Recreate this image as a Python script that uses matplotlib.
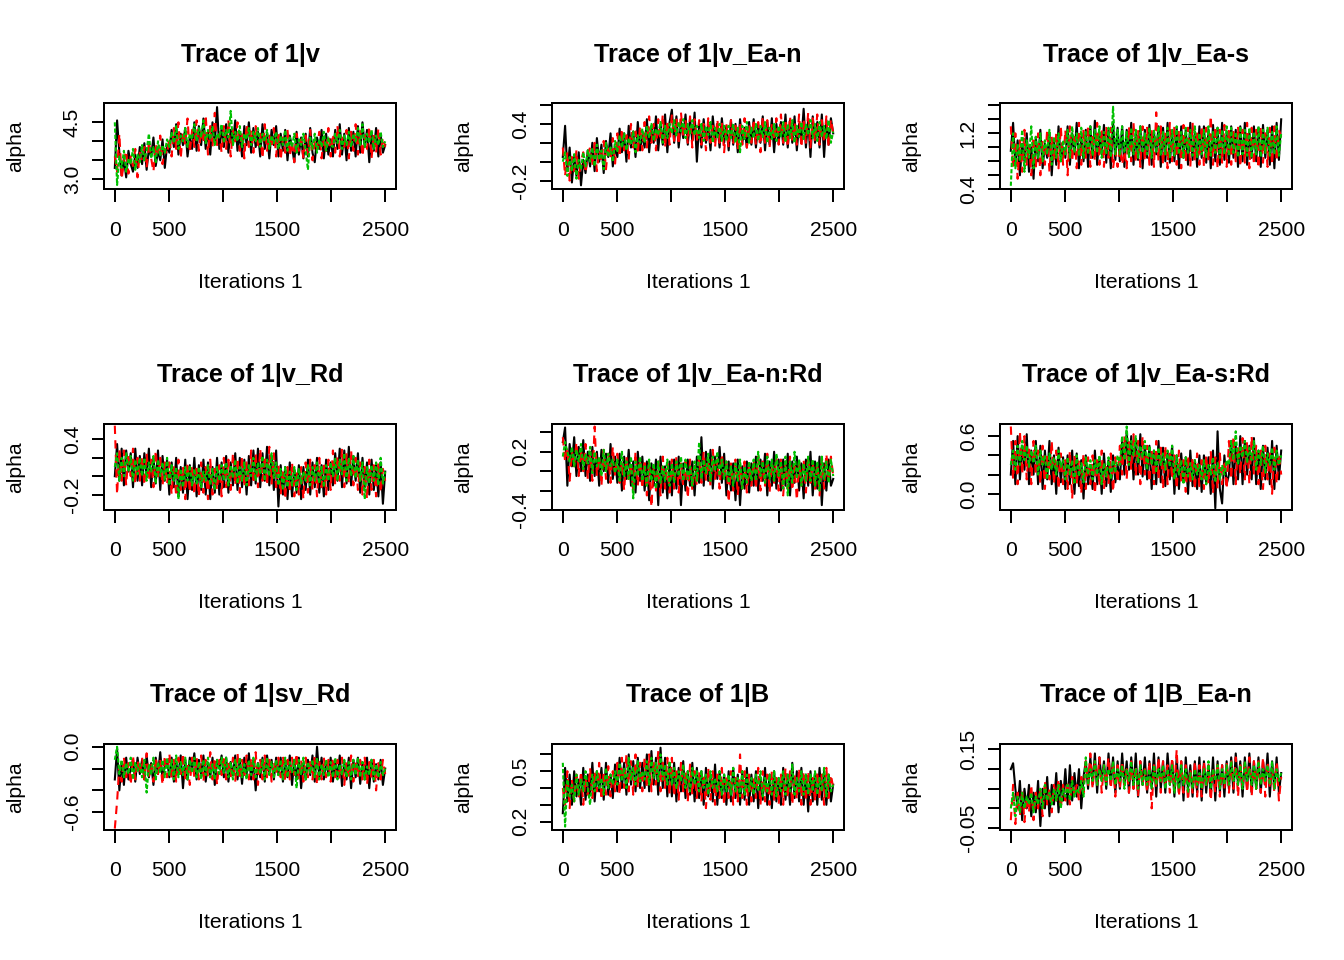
import numpy as np
import matplotlib.pyplot as plt

plt.rcParams['font.family'] = ['Liberation Sans', 'DejaVu Sans']

# ---- chain values (3 chains per parameter, 2500 iterations, thinned) ----
v_c1 = [3.3, 4.55, 3.7, 3.1, 3.55, 3.05, 3.75, 3.4, 3.2, 3.65, 3.3, 3.85,
        3.4, 3.95, 3.25, 3.8, 3.6, 4.1, 3.35, 3.75, 3.5, 4.05, 3.3, 3.9,
        3.7, 4.3, 3.85, 4.45, 3.65, 4.2, 3.9, 4.35, 3.6, 4.1, 3.8, 4.5,
        3.75, 4.4, 3.9, 4.6, 3.8, 4.25, 3.65, 4.5, 3.95, 4.9, 3.8, 4.35,
        3.85, 4.45, 3.7, 4.3, 3.95, 4.55, 3.75, 4.2, 3.6, 4.4, 3.9, 4.5,
        3.7, 4.35, 3.85, 4.25, 3.6, 4.45, 3.8, 4.2, 3.55, 4.3, 3.9, 4.4,
        3.6, 4.2, 3.75, 4.3, 3.5, 4.15, 3.85, 3.45, 4.25, 3.65, 4.1, 3.55,
        4.2, 3.6, 4.35, 3.7, 3.45, 4.1, 3.8, 4.3, 3.55, 4.2, 3.65, 4.05,
        3.6, 4.3, 3.8, 4.45, 3.65, 4.2, 3.5, 4.35, 3.75, 4.25, 3.6, 4.4,
        3.7, 4.5, 3.85, 4.3, 3.45, 4.2, 3.75, 4.35, 3.6, 4.15, 3.7, 3.9]
v_c2 = [3.6, 3.2, 4.2, 3.0, 3.5, 3.75, 3.15, 3.6, 3.35, 3.8, 3.05, 3.7,
        3.5, 3.85, 3.3, 4.0, 3.55, 3.2, 3.95, 3.6, 4.15, 3.4, 3.8, 3.65,
        4.1, 3.6, 4.35, 3.8, 4.5, 3.55, 4.25, 3.9, 4.6, 3.7, 4.3, 3.85,
        4.55, 3.75, 4.3, 3.95, 4.7, 3.65, 4.4, 3.85, 4.75, 3.9, 4.2, 3.7,
        4.4, 3.8, 4.55, 3.6, 4.3, 4.0, 4.5, 3.75, 4.25, 3.55, 4.45, 3.85,
        4.3, 3.7, 4.4, 3.9, 4.2, 3.55, 4.45, 3.75, 4.15, 3.85, 4.35, 3.6,
        4.25, 3.5, 4.1, 3.7, 4.3, 3.6, 4.0, 3.45, 4.2, 3.75, 4.05, 3.55,
        4.15, 3.65, 4.3, 3.5, 4.0, 3.8, 4.25, 3.55, 4.1, 3.7, 4.35, 3.6,
        4.2, 3.7, 4.4, 3.6, 4.1, 3.85, 4.3, 3.55, 4.25, 3.75, 4.45, 3.65,
        4.3, 3.6, 4.15, 3.8, 4.4, 3.55, 4.2, 3.7, 4.35, 3.65, 4.1, 3.85]
v_c3 = [4.5, 2.85, 3.6, 3.3, 3.75, 3.2, 3.55, 3.4, 3.8, 3.25, 3.65, 3.45,
        3.9, 3.5, 3.75, 4.2, 3.55, 3.85, 3.45, 4.0, 3.6, 3.9, 3.7, 4.05,
        3.85, 4.25, 3.95, 4.4, 3.8, 4.15, 4.0, 4.35, 3.85, 4.2, 4.05, 4.45,
        4.0, 4.35, 4.1, 4.55, 3.95, 4.3, 4.05, 4.4, 3.9, 4.2, 4.1, 4.45,
        3.95, 4.3, 4.1, 4.8, 3.9, 4.25, 4.0, 4.4, 3.85, 4.2, 4.05, 4.35,
        3.9, 4.25, 4.0, 4.35, 3.85, 4.2, 4.0, 4.3, 3.8, 4.15, 3.95, 4.25,
        3.8, 4.15, 3.9, 4.3, 3.75, 4.1, 3.85, 4.2, 3.7, 4.05, 3.9, 4.2,
        3.75, 3.25, 4.1, 3.8, 4.2, 3.7, 4.05, 3.85, 4.25, 3.75, 4.1, 3.9,
        3.85, 4.2, 3.95, 4.3, 3.8, 4.15, 3.9, 4.25, 3.85, 4.2, 4.0, 4.35,
        3.9, 4.45, 3.85, 4.2, 3.95, 4.3, 3.8, 4.15, 3.9, 4.25, 3.85, 4.0]

ean_c1 = [0.05, 0.38, -0.1, 0.15, -0.22, 0.05, -0.15, 0.1, -0.25, 0.02, -0.12, 0.12,
          -0.05, 0.2, -0.1, 0.25, 0.0, 0.18, -0.12, 0.22, 0.05, 0.3, -0.05, 0.15,
          0.05, 0.35, 0.1, 0.3, 0.0, 0.38, 0.15, 0.32, 0.05, 0.42, 0.12, 0.28,
          0.15, 0.45, 0.1, 0.38, 0.2, 0.48, 0.12, 0.4, 0.18, 0.5, 0.1, 0.42,
          0.55, 0.2, 0.48, 0.15, 0.42, 0.25, 0.5, 0.18, 0.45, 0.22, 0.52, 0.0,
          0.4, 0.15, 0.45, 0.2, 0.38, 0.12, 0.48, 0.22, 0.4, 0.15, 0.46, 0.2,
          0.38, 0.12, 0.44, 0.18, 0.4, 0.1, 0.45, 0.2, 0.36, 0.15, 0.42, 0.18,
          0.45, 0.15, 0.4, 0.2, 0.48, 0.12, 0.42, 0.18, 0.46, 0.1, 0.4, 0.2,
          0.42, 0.18, 0.5, 0.15, 0.44, 0.2, 0.48, 0.12, 0.4, 0.22, 0.56, 0.15,
          0.45, 0.05, 0.48, 0.2, 0.42, 0.15, 0.5, 0.05, 0.44, 0.18, 0.46, 0.3]
ean_c2 = [0.15, -0.15, 0.1, -0.2, 0.05, -0.1, 0.12, -0.18, 0.0, 0.1, -0.12, 0.08,
          0.15, -0.05, 0.2, -0.1, 0.12, 0.0, 0.22, -0.08, 0.18, 0.02, 0.25, -0.02,
          0.3, 0.05, 0.35, 0.12, 0.28, 0.02, 0.4, 0.15, 0.32, 0.08, 0.38, 0.12,
          0.42, 0.15, 0.48, 0.2, 0.4, 0.12, 0.45, 0.22, 0.5, 0.15, 0.44, 0.18,
          0.5, 0.22, 0.46, 0.18, 0.52, 0.25, 0.44, 0.2, 0.48, 0.15, 0.45, 0.22,
          0.44, 0.18, 0.4, 0.12, 0.46, 0.2, 0.38, 0.15, 0.45, 0.2, 0.42, 0.1,
          0.4, 0.15, 0.44, 0.2, 0.38, 0.12, 0.42, 0.18, 0.46, 0.15, 0.4, 0.2,
          0.45, 0.18, 0.42, 0.1, 0.48, 0.2, 0.44, 0.15, 0.4, 0.22, 0.46, 0.18,
          0.5, 0.2, 0.45, 0.15, 0.48, 0.22, 0.42, 0.18, 0.5, 0.15, 0.46, 0.2,
          0.52, 0.15, 0.46, 0.22, 0.5, 0.18, 0.44, 0.2, 0.48, 0.15, 0.45, 0.3]
ean_c3 = [0.0, 0.1, -0.15, 0.05, -0.1, 0.08, -0.18, 0.02, -0.08, 0.1, -0.05, 0.12,
          0.0, 0.15, -0.05, 0.18, 0.02, 0.12, -0.08, 0.2, 0.05, 0.15, 0.0, 0.22,
          0.1, 0.28, 0.15, 0.3, 0.12, 0.25, 0.18, 0.32, 0.1, 0.28, 0.2, 0.35,
          0.2, 0.38, 0.25, 0.4, 0.22, 0.35, 0.28, 0.42, 0.2, 0.38, 0.25, 0.4,
          0.3, 0.44, 0.28, 0.42, 0.32, 0.45, 0.25, 0.4, 0.3, 0.44, 0.28, 0.38,
          0.25, 0.4, 0.22, 0.38, 0.28, 0.42, 0.2, 0.36, 0.25, 0.4, 0.22, 0.38,
          0.22, 0.38, 0.25, 0.4, 0.2, 0.36, 0.1, 0.38, 0.24, 0.42, 0.2, 0.36,
          0.25, 0.4, 0.22, 0.38, 0.26, 0.42, 0.2, 0.36, 0.24, 0.4, 0.22, 0.38,
          0.26, 0.42, 0.22, 0.4, 0.25, 0.44, 0.2, 0.38, 0.26, 0.42, 0.24, 0.4,
          0.28, 0.44, 0.25, 0.4, 0.22, 0.42, 0.26, 0.38, 0.24, 0.44, 0.2, 0.32]

eas_c1 = [0.95, 1.35, 0.75, 1.1, 0.6, 1.05, 0.8, 1.2, 0.65, 1.0, 0.55, 1.15,
          0.8, 1.25, 0.7, 1.05, 0.85, 1.2, 0.6, 1.1, 0.75, 1.3, 0.8, 1.0,
          0.85, 1.3, 0.75, 1.2, 0.9, 1.35, 0.7, 1.15, 0.8, 1.25, 0.72, 1.3,
          0.85, 1.38, 0.75, 1.2, 0.9, 1.32, 0.78, 1.25, 0.7, 1.35, 0.82, 1.28,
          0.8, 1.3, 0.72, 1.25, 0.88, 1.35, 0.75, 1.2, 0.82, 1.3, 0.7, 1.25,
          0.85, 1.32, 0.75, 1.22, 0.9, 1.3, 0.72, 1.28, 0.8, 1.35, 0.78, 1.2,
          0.8, 1.28, 0.7, 1.3, 0.85, 1.25, 0.75, 1.35, 0.82, 1.22, 0.72, 1.3,
          0.85, 1.3, 0.78, 1.25, 0.7, 1.32, 0.8, 1.28, 0.75, 1.35, 0.82, 1.2,
          0.78, 1.3, 0.85, 1.25, 0.72, 1.3, 0.8, 1.35, 0.75, 1.22, 0.85, 1.3,
          0.8, 1.28, 0.72, 1.32, 0.85, 1.25, 0.75, 1.3, 0.7, 1.35, 0.82, 1.4]
eas_c2 = [1.3, 0.7, 1.2, 0.55, 1.1, 0.65, 1.25, 0.75, 1.05, 0.6, 1.15, 0.7,
          1.2, 0.6, 1.1, 0.75, 1.25, 0.65, 1.15, 0.8, 1.2, 0.7, 1.3, 0.75,
          1.25, 0.6, 1.3, 0.8, 1.2, 0.7, 1.35, 0.75, 1.25, 0.85, 1.3, 0.72,
          1.2, 0.8, 1.35, 0.75, 1.25, 0.72, 1.3, 0.85, 1.28, 0.7, 0.95, 0.72,
          1.0, 0.75, 0.95, 0.7, 1.3, 0.8, 1.35, 0.78, 1.25, 0.72, 1.3, 0.8,
          1.28, 0.75, 1.25, 0.72, 1.5, 0.8, 1.3, 0.75, 1.22, 0.7, 1.35, 0.8,
          1.3, 0.75, 1.25, 0.7, 1.32, 0.78, 1.28, 0.72, 1.35, 0.8, 1.25, 0.75,
          1.3, 0.72, 1.28, 0.8, 1.45, 0.75, 1.3, 0.7, 1.25, 0.78, 1.32, 0.72,
          1.28, 0.75, 1.22, 0.8, 1.3, 0.72, 1.25, 0.78, 1.35, 0.7, 1.28, 0.75,
          1.25, 0.7, 1.3, 0.78, 1.2, 0.72, 1.28, 0.75, 1.3, 0.8, 1.25, 1.15]
eas_c3 = [0.45, 1.2, 0.7, 1.05, 0.8, 1.25, 0.65, 1.1, 0.85, 1.3, 0.7, 1.15,
          0.85, 1.2, 0.8, 1.1, 0.9, 1.25, 0.75, 1.15, 0.85, 1.2, 0.8, 1.1,
          0.9, 1.25, 0.85, 1.3, 0.92, 1.2, 0.88, 1.28, 0.85, 1.22, 0.9, 1.3,
          0.88, 1.25, 0.92, 1.3, 0.85, 1.22, 0.9, 1.28, 0.86, 1.58, 0.9, 1.25,
          0.88, 1.3, 0.92, 1.22, 0.86, 1.28, 0.9, 1.25, 0.85, 1.3, 0.92, 1.2,
          0.9, 1.28, 0.85, 1.25, 0.92, 1.3, 0.88, 1.22, 0.9, 1.28, 0.86, 1.25,
          0.88, 1.3, 0.9, 1.22, 0.85, 1.28, 0.92, 1.25, 0.88, 1.3, 0.86, 1.2,
          0.9, 1.25, 0.86, 1.3, 0.88, 1.22, 0.92, 1.28, 0.85, 1.25, 0.9, 1.3,
          0.88, 1.28, 0.92, 1.22, 0.86, 1.3, 0.9, 1.25, 0.88, 1.28, 0.85, 1.22,
          0.9, 1.3, 0.86, 1.25, 0.92, 1.28, 0.88, 1.22, 0.9, 1.3, 0.88, 1.2]

rd_c1 = [0.0, 0.35, -0.05, 0.3, -0.1, 0.28, 0.05, 0.25, -0.12, 0.3, -0.05, 0.22,
         -0.1, 0.25, 0.0, 0.3, -0.12, 0.2, -0.08, 0.28, -0.15, 0.22, -0.05, 0.18,
         -0.2, 0.15, -0.12, 0.2, -0.22, 0.1, -0.18, 0.18, -0.25, 0.12, -0.15, 0.2,
         -0.22, 0.12, -0.15, 0.18, -0.2, 0.15, -0.25, 0.1, -0.18, 0.2, -0.2, 0.15,
         -0.12, 0.22, -0.18, 0.15, -0.1, 0.25, -0.15, 0.2, -0.12, 0.18, -0.2, 0.22,
         -0.1, 0.28, -0.08, 0.3, -0.12, 0.25, -0.05, 0.32, -0.1, 0.22, -0.15, 0.28,
         -0.33, 0.12, -0.2, 0.1, -0.25, 0.15, -0.22, 0.08, -0.18, 0.12, -0.25, 0.1,
         -0.15, 0.18, -0.2, 0.15, -0.12, 0.2, -0.18, 0.12, -0.22, 0.18, -0.15, 0.15,
         -0.1, 0.25, -0.05, 0.3, -0.12, 0.28, -0.08, 0.32, -0.1, 0.22, -0.05, 0.25,
         -0.18, 0.2, -0.12, 0.15, -0.2, 0.18, -0.15, 0.12, -0.22, 0.15, -0.3, 0.05]
rd_c2 = [0.55, -0.2, 0.3, -0.05, 0.28, -0.1, 0.25, 0.0, 0.3, -0.08, 0.2, -0.05,
         0.22, -0.1, 0.25, -0.05, 0.18, -0.12, 0.28, -0.02, 0.2, -0.1, 0.15, -0.08,
         0.15, -0.2, 0.12, -0.22, 0.18, -0.15, 0.1, -0.25, 0.15, -0.18, 0.12, -0.2,
         0.12, -0.22, 0.15, -0.18, 0.1, -0.25, 0.18, -0.2, 0.08, -0.15, 0.12, -0.22,
         0.2, -0.12, 0.18, -0.15, 0.25, -0.1, 0.2, -0.18, 0.22, -0.12, 0.15, -0.1,
         0.28, -0.08, 0.25, -0.12, 0.3, -0.05, 0.22, -0.1, 0.32, -0.08, 0.25, -0.12,
         0.12, -0.2, 0.08, -0.25, 0.1, -0.18, 0.15, -0.22, 0.05, -0.2, 0.1, -0.25,
         0.15, -0.18, 0.18, -0.15, 0.12, -0.22, 0.2, -0.12, 0.15, -0.2, 0.18, -0.15,
         0.28, -0.1, 0.22, -0.05, 0.3, -0.12, 0.25, -0.08, 0.28, -0.1, 0.2, -0.15,
         0.15, -0.2, 0.1, -0.25, 0.18, -0.15, 0.12, -0.22, 0.15, -0.18, 0.08, -0.05]
rd_c3 = [0.1, 0.25, -0.05, 0.2, 0.0, 0.25, 0.05, 0.22, -0.05, 0.18, 0.02, 0.2,
         0.0, 0.2, -0.05, 0.15, 0.05, 0.22, -0.08, 0.18, 0.0, 0.15, -0.05, 0.2,
         -0.1, 0.12, -0.05, 0.1, -0.25, 0.08, -0.12, 0.1, -0.05, 0.12, -0.1, 0.08,
         -0.08, 0.1, -0.12, 0.05, -0.05, 0.12, -0.1, 0.08, -0.15, 0.1, -0.05, 0.12,
         -0.05, 0.15, -0.1, 0.12, -0.02, 0.18, -0.08, 0.1, -0.05, 0.15, -0.1, 0.12,
         0.0, 0.2, -0.05, 0.15, 0.02, 0.22, -0.05, 0.18, 0.0, 0.25, -0.02, 0.15,
         -0.1, 0.08, -0.15, 0.1, -0.12, 0.05, -0.1, 0.1, -0.15, 0.08, -0.08, 0.05,
         -0.05, 0.12, -0.1, 0.1, -0.05, 0.15, -0.08, 0.1, -0.12, 0.12, -0.05, 0.15,
         0.0, 0.2, -0.05, 0.18, 0.02, 0.25, -0.05, 0.2, 0.0, 0.22, -0.02, 0.18,
         -0.05, 0.15, -0.25, 0.1, -0.08, 0.12, -0.05, 0.15, -0.1, 0.2, -0.08, 0.05]

eanrd_c1 = [0.3, 0.45, -0.15, 0.28, 0.05, 0.35, -0.05, 0.25, 0.0, 0.32, -0.05, 0.2,
            -0.1, 0.25, -0.05, 0.2, -0.15, 0.22, 0.0, 0.18, -0.12, 0.28, -0.08, 0.15,
            -0.12, 0.18, -0.2, 0.15, -0.08, 0.22, -0.15, 0.1, -0.22, 0.2, -0.1, 0.15,
            -0.2, 0.1, -0.3, 0.08, -0.15, 0.12, -0.35, 0.15, -0.22, 0.05, -0.28, 0.1,
            -0.25, 0.12, -0.18, 0.15, -0.35, 0.08, -0.2, 0.12, -0.15, 0.1, -0.25, 0.15,
            -0.12, 0.35, -0.15, 0.2, -0.1, 0.22, -0.18, 0.15, -0.08, 0.25, -0.12, 0.18,
            -0.25, 0.1, -0.2, 0.08, -0.3, 0.12, -0.35, 0.05, -0.18, 0.1, -0.22, 0.08,
            -0.15, 0.15, -0.2, 0.12, -0.1, 0.18, -0.25, 0.1, -0.15, 0.2, -0.18, 0.12,
            -0.2, 0.12, -0.15, 0.18, -0.25, 0.1, -0.12, 0.15, -0.2, 0.08, -0.28, 0.12,
            -0.15, 0.2, -0.25, 0.1, -0.18, 0.15, -0.35, 0.08, -0.2, 0.12, -0.15, -0.08]
eanrd_c2 = [0.35, 0.1, 0.25, -0.1, 0.2, 0.05, 0.3, -0.05, 0.22, 0.0, 0.28, -0.08,
            0.2, -0.1, 0.46, -0.05, 0.15, -0.15, 0.22, -0.08, 0.18, -0.12, 0.25, -0.05,
            0.18, -0.12, 0.1, -0.2, 0.15, -0.1, 0.08, -0.22, 0.2, -0.15, 0.12, -0.18,
            0.12, -0.25, 0.1, -0.37, 0.05, -0.2, 0.1, -0.25, 0.15, -0.18, 0.08, -0.22,
            0.12, -0.18, 0.15, -0.22, 0.08, -0.15, 0.1, -0.28, 0.12, -0.2, 0.05, -0.15,
            0.15, -0.12, 0.2, -0.1, 0.1, -0.15, 0.22, -0.08, 0.12, -0.18, 0.18, -0.1,
            0.1, -0.32, 0.08, -0.2, 0.12, -0.25, 0.05, -0.18, 0.1, -0.22, 0.08, -0.15,
            0.12, -0.18, 0.15, -0.2, 0.1, -0.15, 0.18, -0.22, 0.08, -0.12, 0.15, -0.2,
            0.12, -0.25, 0.1, -0.18, 0.15, -0.2, 0.05, -0.3, 0.1, -0.15, 0.12, -0.22,
            0.15, -0.12, 0.1, -0.2, 0.08, -0.25, 0.12, -0.18, 0.18, -0.1, 0.15, -0.05]
eanrd_c3 = [0.15, 0.3, 0.2, 0.1, 0.25, 0.05, 0.22, 0.1, 0.28, 0.02, 0.18, 0.08,
            0.25, -0.02, 0.2, 0.05, 0.15, -0.05, 0.22, 0.0, 0.18, 0.05, 0.12, -0.02,
            0.12, -0.1, 0.2, -0.05, 0.1, -0.08, 0.15, -0.28, 0.1, -0.05, 0.15, -0.1,
            0.05, -0.15, 0.12, -0.1, 0.08, -0.18, 0.1, -0.12, 0.05, -0.1, 0.12, -0.15,
            0.08, -0.12, 0.1, -0.05, 0.15, -0.1, 0.12, -0.08, 0.05, -0.15, 0.1, -0.1,
            0.3, -0.08, 0.12, -0.02, 0.18, -0.1, 0.15, 0.0, 0.2, -0.05, 0.12, -0.08,
            0.1, -0.12, 0.05, -0.15, 0.08, -0.1, 0.12, -0.18, 0.05, -0.12, 0.1, -0.1,
            0.12, -0.1, 0.2, -0.05, 0.1, -0.12, 0.15, -0.08, 0.12, -0.1, 0.18, -0.05,
            0.1, -0.18, 0.15, -0.25, 0.1, -0.12, 0.2, -0.08, 0.12, -0.15, 0.08, -0.1,
            0.15, -0.1, 0.12, -0.15, 0.1, -0.2, 0.15, -0.08, 0.1, -0.12, 0.12, -0.05]

easrd_c1 = [0.2, 0.55, 0.1, 0.6, 0.15, 0.5, 0.25, 0.62, 0.1, 0.45, 0.2, 0.55,
            0.1, 0.5, 0.05, 0.45, 0.15, 0.55, 0.1, 0.4, 0.0, 0.48, 0.12, 0.38,
            0.05, 0.4, 0.1, 0.45, 0.0, 0.42, 0.08, 0.35, -0.05, 0.4, 0.1, 0.3,
            0.05, 0.45, 0.1, 0.38, 0.0, 0.42, 0.08, 0.35, 0.02, 0.4, 0.12, 0.3,
            0.15, 0.55, 0.2, 0.65, 0.25, 0.6, 0.15, 0.55, 0.2, 0.62, 0.18, 0.5,
            0.15, 0.5, 0.05, 0.45, 0.1, 0.55, 0.12, 0.48, 0.08, 0.42, 0.15, 0.5,
            0.0, 0.4, 0.05, 0.42, 0.12, 0.38, 0.0, 0.45, 0.08, 0.35, 0.05, 0.4,
            0.02, 0.4, 0.1, 0.38, 0.0, 0.45, -0.15, 0.65, 0.05, -0.1, 0.4, 0.1,
            0.2, 0.55, 0.1, 0.5, 0.15, 0.6, 0.1, 0.55, 0.2, 0.5, 0.15, 0.58,
            0.1, 0.45, 0.05, 0.5, 0.15, 0.48, 0.1, 0.55, 0.05, 0.5, 0.15, 0.45]
easrd_c2 = [0.7, 0.15, 0.55, 0.1, 0.65, 0.2, 0.6, 0.15, 0.5, 0.1, 0.55, 0.2,
            0.45, 0.1, 0.5, 0.05, 0.4, 0.15, 0.55, 0.1, 0.45, 0.05, 0.42, 0.1,
            0.35, 0.05, 0.45, -0.05, 0.4, 0.1, 0.35, 0.0, 0.42, 0.05, 0.38, 0.1,
            0.4, 0.0, 0.35, 0.08, 0.45, 0.05, 0.3, 0.1, 0.42, 0.02, 0.38, 0.12,
            0.5, 0.2, 0.6, 0.15, 0.55, 0.25, 0.62, 0.18, 0.55, 0.1, 0.6, 0.2,
            0.5, 0.12, 0.45, 0.1, 0.55, 0.15, 0.48, 0.05, 0.5, 0.1, 0.45, 0.15,
            0.4, 0.05, 0.45, 0.12, 0.35, 0.02, 0.4, 0.1, 0.38, 0.05, 0.42, 0.08,
            0.35, 0.05, 0.4, 0.1, 0.45, 0.0, 0.38, 0.05, 0.42, 0.1, 0.35, 0.05,
            0.55, 0.15, 0.6, 0.1, 0.5, 0.2, 0.58, 0.15, 0.55, 0.1, 0.6, 0.2,
            0.5, 0.1, 0.45, 0.05, 0.5, 0.15, 0.42, 0.0, 0.48, 0.1, 0.42, 0.2]
easrd_c3 = [0.3, 0.45, 0.25, 0.5, 0.3, 0.55, 0.35, 0.5, 0.28, 0.45, 0.32, 0.5,
            0.2, 0.45, 0.3, 0.4, 0.15, 0.42, 0.25, 0.38, 0.2, 0.45, 0.28, 0.35,
            0.15, 0.38, 0.2, 0.35, 0.1, 0.4, 0.18, 0.32, 0.12, 0.38, 0.2, 0.35,
            0.15, 0.35, 0.2, 0.4, 0.1, 0.32, 0.18, 0.38, 0.15, 0.35, 0.22, 0.4,
            0.3, 0.6, 0.35, 0.7, 0.3, 0.55, 0.4, 0.6, 0.32, 0.5, 0.38, 0.55,
            0.25, 0.5, 0.3, 0.45, 0.22, 0.48, 0.3, 0.42, 0.25, 0.45, 0.28, 0.5,
            0.15, 0.4, 0.2, 0.35, 0.1, 0.38, 0.18, 0.32, 0.15, 0.35, 0.2, 0.3,
            0.15, 0.35, 0.1, 0.3, 0.2, 0.38, 0.12, 0.32, 0.15, 0.3, 0.2, 0.35,
            0.3, 0.55, 0.35, 0.65, 0.3, 0.5, 0.38, 0.55, 0.32, 0.48, 0.35, 0.55,
            0.25, 0.45, 0.3, 0.5, 0.22, 0.42, 0.3, 0.48, 0.25, 0.45, 0.3, 0.4]

svrd_c1 = [-0.3, -0.02, -0.4, -0.15, -0.35, -0.1, -0.3, -0.2, -0.12, -0.32, -0.1, -0.25,
           -0.12, -0.3, -0.08, -0.28, -0.15, -0.35, -0.1, -0.25, -0.05, -0.3, -0.18, -0.12,
           -0.28, -0.1, -0.32, -0.15, -0.25, -0.08, -0.38, -0.12, -0.3, -0.1, -0.22, -0.06,
           -0.3, -0.12, -0.25, -0.08, -0.32, -0.15, -0.28, -0.1, -0.35, -0.12, -0.2, -0.08,
           -0.28, -0.1, -0.32, -0.14, -0.26, -0.08, -0.3, -0.12, -0.34, -0.1, -0.25, -0.06,
           -0.3, -0.12, -0.4, -0.15, -0.28, -0.1, -0.32, -0.08, -0.25, -0.12, -0.3, -0.1,
           -0.26, -0.1, -0.32, -0.14, -0.28, -0.08, -0.35, -0.12, -0.3, -0.1, -0.38, -0.15,
           -0.3, -0.12, -0.26, -0.08, -0.32, 0.0, -0.28, -0.1, -0.3, -0.14, -0.25, -0.1,
           -0.32, -0.12, -0.28, -0.08, -0.36, -0.14, -0.3, -0.1, -0.38, -0.12, -0.28, -0.1,
           -0.34, -0.14, -0.3, -0.1, -0.38, -0.12, -0.32, -0.16, -0.3, -0.12, -0.35, -0.2]
svrd_c2 = [-0.75, -0.5, -0.18, -0.32, -0.1, -0.28, -0.15, -0.35, -0.08, -0.3, -0.12, -0.25,
           -0.1, -0.3, -0.06, -0.28, -0.15, -0.32, -0.1, -0.25, -0.12, -0.35, -0.08, -0.28,
           -0.06, -0.3, -0.12, -0.32, -0.1, -0.25, -0.06, -0.3, -0.14, -0.35, -0.1, -0.28,
           -0.1, -0.3, -0.08, -0.32, -0.12, -0.28, -0.05, -0.3, -0.1, -0.35, -0.12, -0.26,
           -0.08, -0.3, -0.12, -0.28, -0.1, -0.32, -0.06, -0.3, -0.12, -0.26, -0.08, -0.3,
           -0.1, -0.3, -0.05, -0.35, -0.12, -0.3, -0.08, -0.28, -0.1, -0.32, -0.14, -0.26,
           -0.1, -0.28, -0.08, -0.32, -0.12, -0.3, -0.1, -0.26, -0.06, -0.3, -0.12, -0.32,
           -0.1, -0.28, -0.12, -0.3, -0.08, -0.35, -0.14, -0.3, -0.1, -0.28, -0.12, -0.32,
           -0.1, -0.28, -0.12, -0.3, -0.1, -0.35, -0.14, -0.3, -0.08, -0.32, -0.12, -0.28,
           -0.12, -0.3, -0.1, -0.35, -0.14, -0.3, -0.12, -0.4, -0.15, -0.3, -0.12, -0.25]
svrd_c3 = [-0.12, 0.0, -0.25, -0.12, -0.28, -0.15, -0.25, -0.1, -0.3, -0.14, -0.22, -0.16,
           -0.28, -0.12, -0.42, -0.16, -0.26, -0.1, -0.3, -0.14, -0.24, -0.12, -0.28, -0.1,
           -0.26, -0.12, -0.3, -0.08, -0.28, -0.14, -0.26, -0.1, -0.3, -0.12, -0.24, -0.1,
           -0.28, -0.14, -0.3, -0.12, -0.26, -0.1, -0.28, -0.16, -0.3, -0.12, -0.25, -0.1,
           -0.24, -0.1, -0.28, -0.14, -0.3, -0.12, -0.26, -0.1, -0.28, -0.16, -0.3, -0.12,
           -0.26, -0.1, -0.28, -0.14, -0.25, -0.12, -0.3, -0.1, -0.26, -0.14, -0.28, -0.12,
           -0.26, -0.12, -0.3, -0.1, -0.28, -0.14, -0.24, -0.12, -0.38, -0.12, -0.26, -0.1,
           -0.3, -0.14, -0.24, -0.12, -0.28, -0.1, -0.3, -0.16, -0.26, -0.12, -0.28, -0.14,
           -0.28, -0.1, -0.3, -0.16, -0.26, -0.12, -0.28, -0.14, -0.3, -0.12, -0.26, -0.1,
           -0.28, -0.14, -0.3, -0.18, -0.26, -0.12, -0.3, -0.16, -0.28, -0.14, -0.26, -0.2]

b_c1 = [0.25, 0.52, 0.32, 0.48, 0.3, 0.5, 0.35, 0.45, 0.3, 0.52, 0.33, 0.48,
        0.36, 0.55, 0.32, 0.5, 0.38, 0.52, 0.33, 0.55, 0.36, 0.48, 0.34, 0.54,
        0.38, 0.58, 0.4, 0.55, 0.36, 0.6, 0.42, 0.56, 0.38, 0.58, 0.4, 0.55,
        0.4, 0.6, 0.38, 0.62, 0.42, 0.58, 0.36, 0.64, 0.4, 0.58, 0.35, 0.55,
        0.35, 0.55, 0.32, 0.52, 0.38, 0.56, 0.34, 0.5, 0.36, 0.55, 0.32, 0.52,
        0.34, 0.5, 0.3, 0.52, 0.35, 0.48, 0.32, 0.54, 0.3, 0.5, 0.34, 0.48,
        0.3, 0.5, 0.32, 0.52, 0.34, 0.48, 0.3, 0.5, 0.33, 0.52, 0.3, 0.48,
        0.32, 0.5, 0.28, 0.46, 0.33, 0.52, 0.3, 0.48, 0.28, 0.5, 0.32, 0.46,
        0.3, 0.52, 0.33, 0.48, 0.3, 0.55, 0.34, 0.5, 0.32, 0.52, 0.3, 0.48,
        0.26, 0.5, 0.32, 0.48, 0.3, 0.52, 0.33, 0.5, 0.3, 0.48, 0.32, 0.42]
b_c2 = [0.4, 0.3, 0.5, 0.28, 0.45, 0.32, 0.48, 0.34, 0.5, 0.3, 0.46, 0.36,
        0.52, 0.34, 0.5, 0.38, 0.55, 0.33, 0.5, 0.36, 0.53, 0.35, 0.5, 0.38,
        0.55, 0.36, 0.58, 0.4, 0.6, 0.38, 0.56, 0.36, 0.6, 0.4, 0.55, 0.38,
        0.58, 0.4, 0.6, 0.38, 0.56, 0.42, 0.62, 0.38, 0.55, 0.4, 0.58, 0.36,
        0.58, 0.35, 0.52, 0.33, 0.55, 0.38, 0.5, 0.32, 0.54, 0.36, 0.5, 0.34,
        0.5, 0.32, 0.48, 0.28, 0.52, 0.33, 0.5, 0.3, 0.48, 0.34, 0.52, 0.3,
        0.48, 0.34, 0.5, 0.3, 0.46, 0.32, 0.6, 0.34, 0.5, 0.3, 0.48, 0.32,
        0.46, 0.34, 0.52, 0.3, 0.5, 0.32, 0.48, 0.3, 0.5, 0.33, 0.46, 0.3,
        0.48, 0.3, 0.52, 0.34, 0.5, 0.3, 0.48, 0.33, 0.52, 0.3, 0.5, 0.32,
        0.5, 0.3, 0.46, 0.32, 0.5, 0.33, 0.48, 0.3, 0.52, 0.34, 0.48, 0.4]
b_c3 = [0.55, 0.17, 0.45, 0.35, 0.42, 0.32, 0.48, 0.36, 0.45, 0.38, 0.5, 0.4,
        0.3, 0.48, 0.38, 0.5, 0.4, 0.46, 0.36, 0.52, 0.4, 0.48, 0.42, 0.5,
        0.42, 0.55, 0.44, 0.52, 0.4, 0.58, 0.45, 0.52, 0.42, 0.56, 0.44, 0.5,
        0.45, 0.56, 0.42, 0.58, 0.46, 0.55, 0.44, 0.6, 0.45, 0.54, 0.42, 0.56,
        0.42, 0.52, 0.4, 0.5, 0.44, 0.54, 0.4, 0.5, 0.38, 0.52, 0.42, 0.5,
        0.38, 0.5, 0.4, 0.48, 0.36, 0.5, 0.4, 0.46, 0.38, 0.5, 0.36, 0.48,
        0.38, 0.48, 0.36, 0.52, 0.38, 0.46, 0.35, 0.5, 0.36, 0.48, 0.38, 0.46,
        0.36, 0.48, 0.38, 0.5, 0.35, 0.46, 0.38, 0.48, 0.36, 0.5, 0.35, 0.46,
        0.38, 0.5, 0.36, 0.48, 0.38, 0.54, 0.36, 0.46, 0.38, 0.5, 0.36, 0.48,
        0.36, 0.48, 0.38, 0.5, 0.36, 0.46, 0.38, 0.52, 0.35, 0.48, 0.38, 0.42]

bean_c1 = [0.1, 0.115, 0.05, 0.0, 0.07, -0.03, 0.05, 0.0, 0.06, -0.02, 0.04, -0.01,
           0.07, -0.045, 0.05, 0.0, 0.08, -0.02, 0.06, 0.01, 0.09, -0.01, 0.07, 0.02,
           0.1, 0.01, 0.11, 0.02, 0.09, 0.03, 0.1, 0.0, 0.08, 0.12, 0.05, 0.13,
           0.06, 0.14, 0.04, 0.13, 0.07, 0.12, 0.05, 0.14, 0.06, 0.13, 0.04, 0.12,
           0.05, 0.14, 0.06, 0.12, 0.04, 0.13, 0.05, 0.14, 0.03, 0.12, 0.06, 0.13,
           0.04, 0.12, 0.05, 0.14, 0.03, 0.13, 0.05, 0.12, 0.04, 0.14, 0.06, 0.12,
           0.03, 0.13, 0.04, 0.12, 0.02, 0.13, 0.05, 0.11, 0.03, 0.12, 0.04, 0.13,
           0.02, 0.12, 0.04, 0.11, 0.03, 0.13, 0.02, 0.12, 0.04, 0.11, 0.03, 0.12,
           0.05, 0.13, 0.04, 0.14, 0.06, 0.12, 0.03, 0.13, 0.05, 0.14, 0.04, 0.12,
           0.05, 0.13, 0.04, 0.12, 0.06, 0.14, 0.03, 0.12, 0.05, 0.13, 0.04, 0.09]
bean_c2 = [-0.03, 0.06, -0.04, 0.04, -0.02, 0.05, -0.035, 0.03, -0.01, 0.06, -0.03, 0.04,
           0.0, 0.05, -0.02, 0.07, 0.01, 0.05, -0.01, 0.06, 0.02, 0.075, 0.0, 0.06,
           0.02, 0.07, 0.01, 0.08, 0.03, 0.06, 0.02, 0.08, 0.04, 0.12, 0.06, 0.14,
           0.05, 0.12, 0.06, 0.13, 0.04, 0.11, 0.06, 0.13, 0.05, 0.12, 0.03, 0.11,
           0.05, 0.12, 0.06, 0.1, 0.04, 0.12, 0.05, 0.11, 0.03, 0.12, 0.06, 0.1,
           0.04, 0.12, 0.0, 0.11, 0.05, 0.13, 0.04, 0.12, 0.06, 0.11, 0.04, 0.13,
           0.05, 0.15, 0.03, 0.12, 0.04, 0.11, 0.02, 0.1, 0.04, 0.12, 0.03, 0.11,
           0.03, 0.12, 0.05, 0.11, 0.02, 0.1, 0.04, 0.12, 0.03, 0.11, 0.05, 0.12,
           0.04, 0.12, 0.05, 0.13, 0.03, 0.11, 0.05, 0.12, 0.04, 0.13, 0.03, 0.12,
           0.05, 0.12, 0.04, 0.13, 0.03, 0.12, 0.05, 0.1, 0.04, 0.12, 0.02, 0.08]
bean_c3 = [0.0, 0.04, -0.02, 0.03, -0.01, 0.04, 0.0, 0.03, 0.01, 0.04, -0.01, 0.03,
           0.01, 0.05, 0.0, 0.06, 0.02, 0.04, 0.01, 0.05, 0.02, 0.06, 0.0, 0.05,
           0.03, 0.06, 0.02, 0.07, 0.03, 0.05, 0.04, 0.07, 0.03, 0.13, 0.06, 0.1,
           0.07, 0.12, 0.06, 0.1, 0.07, 0.11, 0.06, 0.1, 0.07, 0.12, 0.06, 0.1,
           0.07, 0.11, 0.05, 0.1, 0.07, 0.12, 0.06, 0.1, 0.05, 0.11, 0.06, 0.1,
           0.06, 0.1, 0.05, 0.11, 0.06, 0.1, 0.07, 0.11, 0.05, 0.1, 0.06, 0.11,
           0.04, 0.09, 0.05, 0.11, 0.06, 0.1, 0.04, 0.09, 0.05, 0.1, 0.06, 0.09,
           0.05, 0.1, 0.06, 0.12, 0.05, 0.1, 0.07, 0.11, 0.05, 0.1, 0.06, 0.11,
           0.06, 0.12, 0.07, 0.1, 0.06, 0.11, 0.05, 0.12, 0.07, 0.1, 0.06, 0.11,
           0.05, 0.12, 0.06, 0.1, 0.07, 0.11, 0.06, 0.12, 0.05, 0.1, 0.07, 0.09]

titles = ["Trace of 1|v", "Trace of 1|v_Ea-n", "Trace of 1|v_Ea-s",
          "Trace of 1|v_Rd", "Trace of 1|v_Ea-n:Rd", "Trace of 1|v_Ea-s:Rd",
          "Trace of 1|sv_Rd", "Trace of 1|B", "Trace of 1|B_Ea-n"]
chains = [[v_c1, v_c2, v_c3], [ean_c1, ean_c2, ean_c3], [eas_c1, eas_c2, eas_c3],
          [rd_c1, rd_c2, rd_c3], [eanrd_c1, eanrd_c2, eanrd_c3], [easrd_c1, easrd_c2, easrd_c3],
          [svrd_c1, svrd_c2, svrd_c3], [b_c1, b_c2, b_c3], [bean_c1, bean_c2, bean_c3]]

ylims = [(2.737, 5.0), (-0.292, 0.618), (0.40, 1.629),
         (-0.368, 0.568), (-0.40, 0.486), (-0.168, 0.726),
         (-0.763, 0.025), (0.15, 0.662), (-0.055, 0.164)]
yticks = [[3.0, 3.5, 4.0, 4.5], [-0.2, 0.0, 0.2, 0.4, 0.6], [0.4, 0.6, 0.8, 1.0, 1.2, 1.4, 1.6],
          [-0.2, 0.0, 0.2, 0.4], [-0.4, -0.2, 0.0, 0.2, 0.4], [0.0, 0.2, 0.4, 0.6],
          [-0.6, -0.4, -0.2, 0.0], [0.2, 0.3, 0.4, 0.5, 0.6], [-0.05, 0.0, 0.05, 0.10, 0.15]]
ytick_labels = [["3.0", "", "", "4.5"], ["-0.2", "", "", "0.4", ""], ["0.4", "", "", "", "1.2", "", ""],
                ["-0.2", "", "", "0.4"], ["-0.4", "", "", "0.2", ""], ["0.0", "", "", "0.6"],
                ["-0.6", "", "", "0.0"], ["0.2", "", "", "0.5", ""], ["-0.05", "", "", "", "0.15"]]
xticks = [0, 500, 1000, 1500, 2000, 2500]
xtick_labels = ["0", "500", "", "1500", "", "2500"]

colors = ['#000000', '#FF0000', '#00C000']
styles = ['-', (0, (4, 3)), (0, (2, 1))]

fig = plt.figure(figsize=(13.44, 9.6), dpi=100)
lefts = [104, 552, 1000]
tops = [103.3, 424, 744]
W, H = 292, 86

for i in range(9):
    r, c = divmod(i, 3)
    ax = fig.add_axes([lefts[c] / 1344, 1 - (tops[r] + H) / 960, W / 1344, H / 960])
    for vals, col, ls in zip(chains[i], colors, styles):
        it = np.linspace(1, 2500, len(vals))
        ax.plot(it, vals, color=col, lw=1.5, linestyle=ls)
    ax.set_xlim(-99, 2600)
    ax.set_ylim(*ylims[i])
    ax.set_xticks(xticks)
    ax.set_xticklabels(xtick_labels)
    ax.set_yticks(yticks[i])
    ax.set_yticklabels(ytick_labels[i], rotation=90, va='center')
    ax.tick_params(direction='out', length=9, width=1.44, labelsize=15.2)
    ax.tick_params(axis='x', pad=13.5)
    ax.tick_params(axis='y', pad=7)
    for s in ax.spines.values():
        s.set_linewidth(1.44)
    ax.set_title(titles[i], fontsize=18.2, fontweight='bold', pad=30)
    ax.set_xlabel('Iterations 1', fontsize=15.2)
    ax.set_ylabel('alpha', fontsize=15.2)
    ax.xaxis.set_label_coords(0.5, -0.97)
    ax.yaxis.set_label_coords(-0.27, 0.5)

fig.savefig('out.png', dpi=100)
